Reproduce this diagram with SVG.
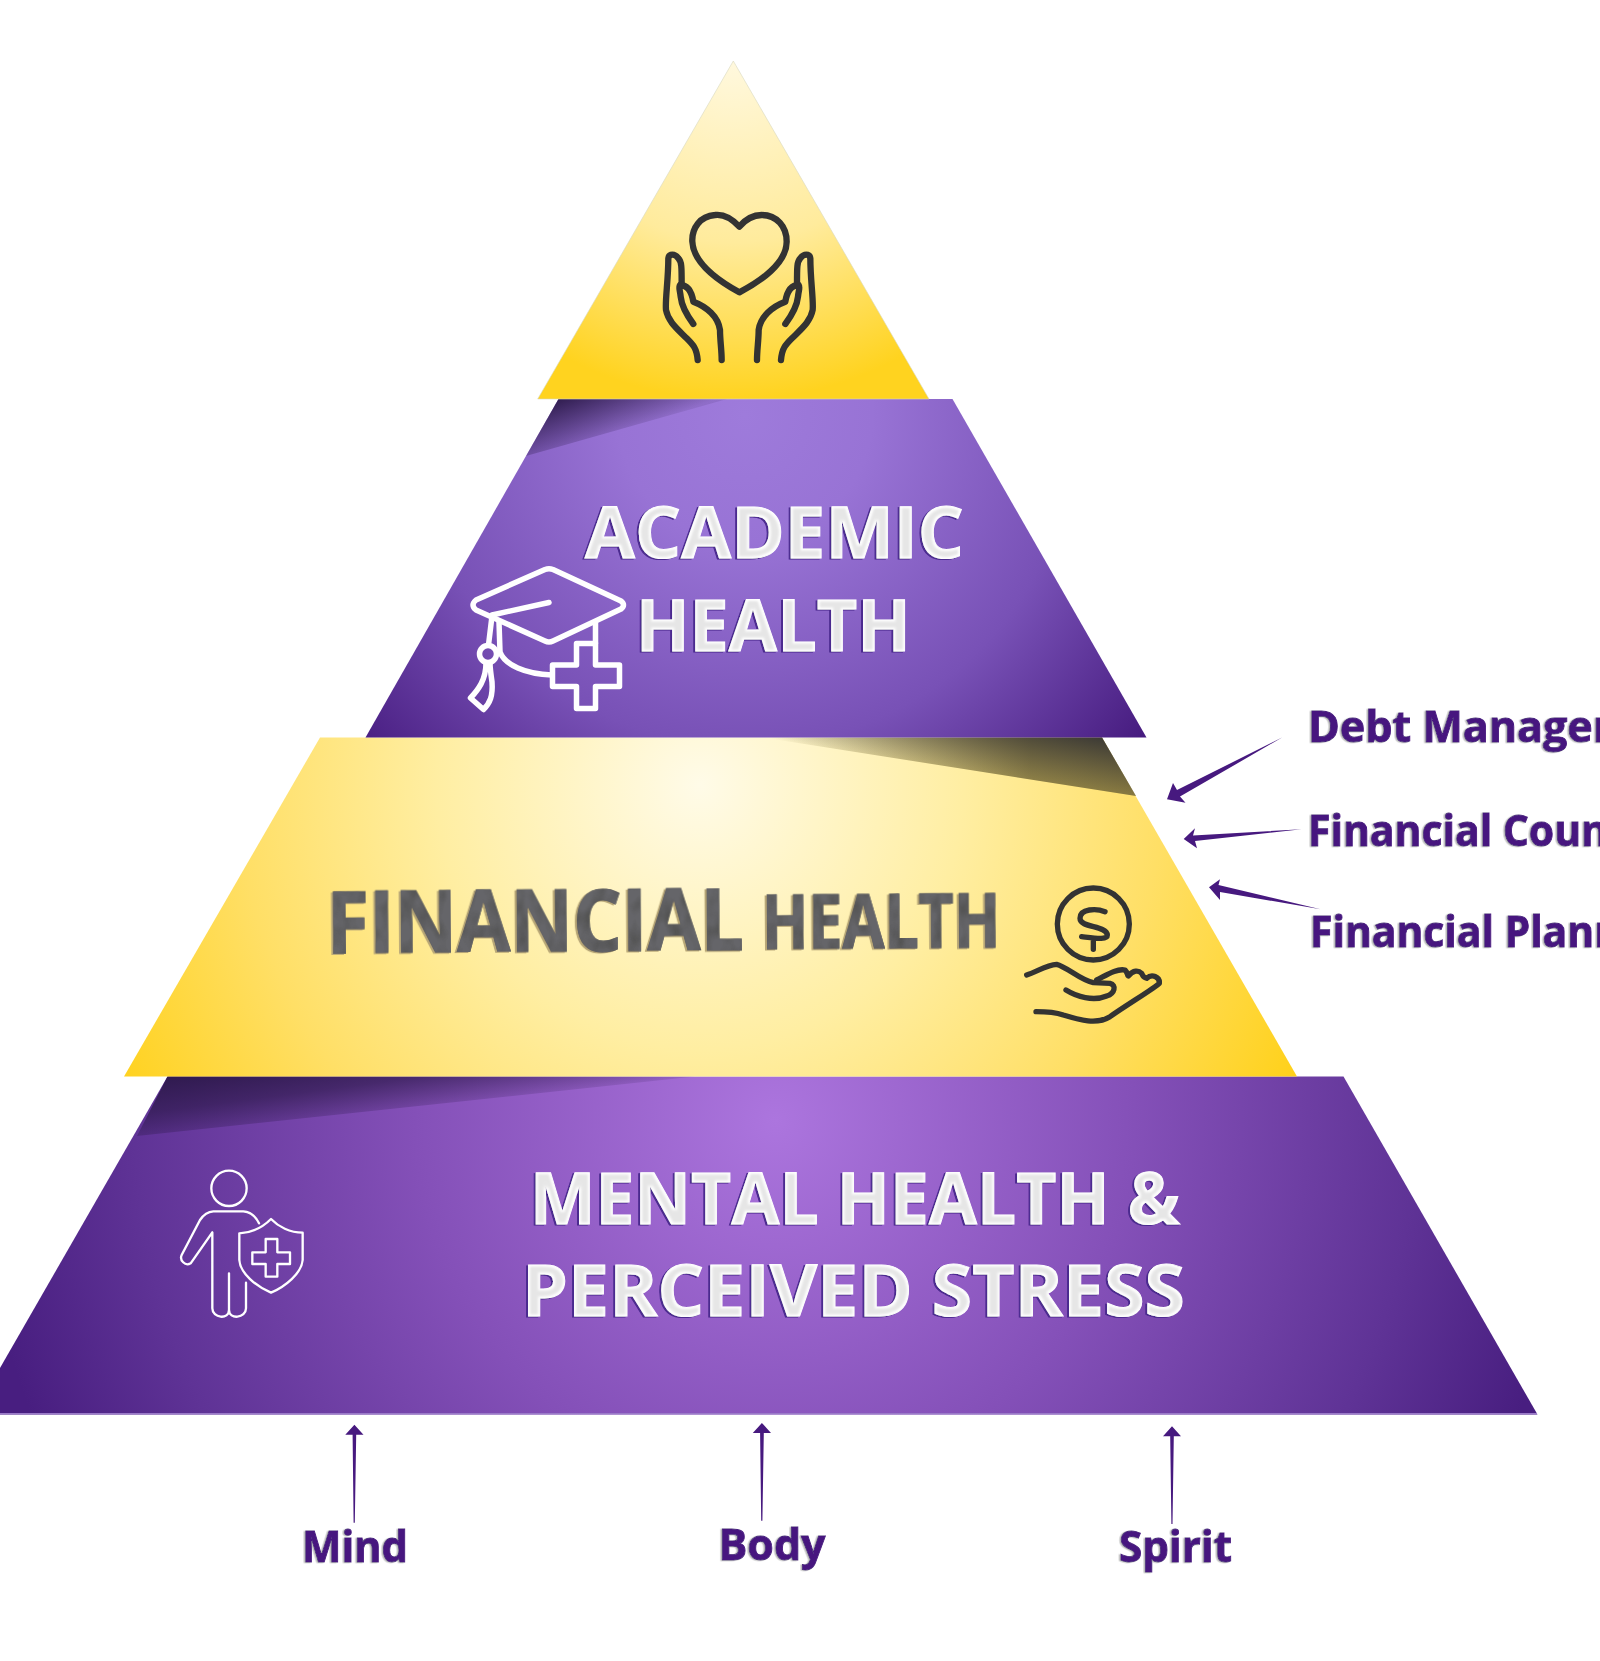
<svg xmlns="http://www.w3.org/2000/svg" width="1600" height="1661" viewBox="0 0 1600 1661">
<style>
text{font-family:"Open Sans","Noto Sans","Liberation Sans",sans-serif;font-weight:700}
.lab{font-size:43px;fill:#47197f;stroke:#47197f;stroke-width:.9px;filter:url(#greyShadow)}
.big{font-size:72px;fill:#fff;stroke:#fff;stroke-width:1px;filter:url(#bevel)}
.dark{fill:#555;stroke:#555;stroke-width:1.2px;filter:url(#mottle)}
.arrow{fill:#47197f}
.iconD{fill:none;stroke:#333;stroke-width:19;stroke-linecap:round;stroke-linejoin:round}
.iconM{fill:none;stroke:#333;stroke-width:16;stroke-linecap:round;stroke-linejoin:round}
.iconW{fill:none;stroke:#fff;stroke-linecap:round;stroke-linejoin:round}
</style>
<defs>
<radialGradient id="gL1" gradientUnits="userSpaceOnUse" cx="733" cy="50" r="350"><stop offset="0" stop-color="#fff9e2"/><stop offset=".55" stop-color="#ffeb9c"/><stop offset="1" stop-color="#ffd31f"/></radialGradient>
<radialGradient id="gL2" gradientUnits="userSpaceOnUse" cx="745" cy="415" r="510"><stop offset="0" stop-color="#9e7bdb"/><stop offset=".25" stop-color="#9873d5"/><stop offset=".65" stop-color="#7851b6"/><stop offset="1" stop-color="#471c80"/></radialGradient>
<radialGradient id="gL3" gradientUnits="userSpaceOnUse" cx="700" cy="785" r="660"><stop offset="0" stop-color="#fffbe8"/><stop offset=".4" stop-color="#ffeea2"/><stop offset=".7" stop-color="#ffdf66"/><stop offset="1" stop-color="#ffd11b"/></radialGradient>
<radialGradient id="gL4" gradientUnits="userSpaceOnUse" cx="775" cy="1120" r="800"><stop offset="0" stop-color="#ac75de"/><stop offset=".45" stop-color="#8450b8"/><stop offset=".8" stop-color="#5f3396"/><stop offset="1" stop-color="#481e80"/></radialGradient>
<linearGradient id="w2" gradientUnits="userSpaceOnUse" x1="555" y1="397" x2="574" y2="450"><stop offset="0" stop-color="#2c1a4a"/><stop offset="1" stop-color="#2c1a4a" stop-opacity=".12"/></linearGradient>
<linearGradient id="w3a" gradientUnits="userSpaceOnUse" x1="1030" y1="745" x2="770" y2="745"><stop offset="0" stop-color="#7d7038" stop-opacity=".8"/><stop offset="1" stop-color="#7d7038" stop-opacity="0"/></linearGradient>
<linearGradient id="w3b" gradientUnits="userSpaceOnUse" x1="1100" y1="735" x2="1088" y2="798"><stop offset="0" stop-color="#2f2f33" stop-opacity=".9"/><stop offset="1" stop-color="#2f2f33" stop-opacity="0"/></linearGradient>
<linearGradient id="w4" gradientUnits="userSpaceOnUse" x1="160" y1="1076" x2="169" y2="1145"><stop offset="0" stop-color="#2f1a4e"/><stop offset=".5" stop-color="#2f1a4e" stop-opacity=".7"/><stop offset="1" stop-color="#2f1a4e" stop-opacity=".12"/></linearGradient>
<filter id="greyShadow" x="-5%" y="-10%" width="110%" height="120%"><feDropShadow dx="-1.5" dy="0.5" stdDeviation="0.4" flood-color="#b9b9b9"/></filter>
<filter id="bevel" x="-5%" y="-10%" width="110%" height="120%">
<feOffset in="SourceAlpha" dx="-2.5" dy="0.5" result="o"/><feFlood flood-color="#4b2a8f"/><feComposite in2="o" operator="in" result="sh"/>
<feMorphology in="SourceAlpha" operator="erode" radius="2"/><feGaussianBlur stdDeviation="1.2" result="e"/><feFlood flood-color="#e6e6e6"/><feComposite in2="e" operator="in" result="inner"/>
<feMerge><feMergeNode in="sh"/><feMergeNode in="SourceGraphic"/><feMergeNode in="inner"/></feMerge>
</filter>
<filter id="mottle" x="-5%" y="-10%" width="110%" height="120%">
<feOffset in="SourceAlpha" dx="-2" dy="0.5" result="o"/><feFlood flood-color="#b9a877"/><feComposite in2="o" operator="in" result="sh"/>
<feTurbulence type="fractalNoise" baseFrequency=".06 .04" numOctaves="2" seed="4"/><feColorMatrix type="matrix" values="0 0 0 0 .13 0 0 0 0 .13 0 0 0 0 .14 2.6 0 0 0 -.55"/><feComposite in2="SourceAlpha" operator="in" result="n"/>
<feMerge><feMergeNode in="sh"/><feMergeNode in="SourceGraphic"/><feMergeNode in="n"/></feMerge>
</filter>
<g id="handL"><path d="M593 960C590 925 580 915 560 895C530 865 505 845 498 810C495 780 505 720 505 655C507 640 525 640 535 655C545 665 545 680 545 735"/><path d="M580 852C560 825 545 800 542 770C540 750 535 742 540 735C565 735 575 755 580 785C620 800 655 830 660 870C660 900 665 930 665 960"/></g>
</defs>

<g id="level-4-mental-health">
<polygon points="167.500,1076.500 1343.500,1076.500 1537.500,1414.500 0,1414.500 0,1368" fill="url(#gL4)"/>
<polygon points="167.500,1076.500 695,1076.500 137,1136" fill="url(#w4)"/>
<rect x="0" y="1413" width="1537" height="1.500" fill="#9a7ac8"/>
<text class="big" x="530" y="1224" textLength="650" lengthAdjust="spacingAndGlyphs">MENTAL HEALTH &amp;</text>
<text class="big" x="522" y="1316" textLength="663" lengthAdjust="spacingAndGlyphs">PERCEIVED STRESS</text>
<g class="iconW" stroke-width="7" transform="translate(150 1140) scale(.33333)">
<circle cx="237" cy="145" r="53"/>
<path d="M327 250C315 225 300 215 280 214L190 214C170 215 160 225 150 240L95 345C88 360 105 380 122 370L187 277L187 505C187 535 237 540 237 510L237 400M237 510C237 540 288 535 288 505L288 428"/>
<path d="M363 237C340 260 305 278 268 280L268 360C270 400 320 440 363 458C405 440 455 400 458 360L458 278C420 278 385 260 363 237Z"/>
<path d="M347 297H382V337H420V372H382V410H347V372H307V337H347Z"/>
</g>
</g>

<g id="level-3-financial-health">
<polygon points="320,737.500 1102,737.500 1297,1076.500 124,1076.500" fill="url(#gL3)"/>
<polygon points="763,737.500 1102,737.500 1136,796" fill="url(#w3a)"/>
<polygon points="763,737.500 1102,737.500 1136,796" fill="url(#w3b)"/>
<text class="dark" transform="translate(327 953) rotate(-0.4) scale(.885 1)" font-size="87">FINANCIAL</text>
<text class="dark" transform="translate(762 949) rotate(-0.4) scale(.8 1)" font-size="76">HEALTH</text>
<g class="iconM" transform="translate(1000 870) scale(.33333)">
<circle cx="280" cy="162" r="108"/>
<path d="M315 125C290 115 240 115 240 145C240 175 320 165 322 195C322 210 290 205 245 200M280 210L280 238"/>
<path d="M80 315C110 305 140 285 170 283C200 290 240 330 280 338L330 340C350 345 345 370 320 378C280 395 230 380 198 360"/>
<path d="M290 330C320 315 350 295 375 300C385 310 380 315 385 318C400 300 415 300 425 310C432 325 432 320 440 325C455 310 480 320 478 340C470 350 380 405 330 440C290 465 240 450 190 435C160 425 130 425 108 425"/>
</g>
</g>

<g id="level-2-academic-health">
<polygon points="558.500,399 952.500,399 1146.500,737.500 365.500,737.500" fill="url(#gL2)"/>
<polygon points="558.500,399 727,399 526,456" fill="url(#w2)"/>
<text class="big" x="585" y="558" textLength="379" lengthAdjust="spacingAndGlyphs">ACADEMIC</text>
<text class="big" x="636" y="650.500" textLength="275" lengthAdjust="spacingAndGlyphs">HEALTH</text>
<g class="iconW" stroke-width="5.500">
<path d="M476 600L545 569.500Q549 568 553 569.500L621 601Q626 605 621 609L553 641Q549 643 545 641L476 610Q470 605 476 600Z"/>
<path d="M492 615L549 602.500M492 616L488.500 645"/>
<circle cx="488" cy="654" r="8.500"/>
<path d="M486 663C486 680 478 690 470.500 698L483.500 709.500C490 703 493 696 492 682C491 675 490 668 490 663"/>
<path d="M499 622L500 652C505 665 525 674 552 675M595.500 623L595.500 643"/>
<path d="M576.500 643.500H595.500V665H619.500V686.500H595.500V708.500H576.500V686.500H552.500V665H576.500Z"/>
</g>
</g>

<g id="level-1-wellbeing">
<polygon points="733.300,61 929,399 537.700,399" fill="url(#gL1)" stroke="#d8d8c0" stroke-width=".6"/>
<g class="iconD" transform="translate(500 40) scale(.33333)">
<path d="M718 560C695 535 670 522 645 525C600 528 575 565 577 605C580 670 660 725 718 757C780 725 860 670 860 605C860 560 830 525 785 525C760 525 735 540 718 560Z"/>
<use href="#handL"/>
<use href="#handL" transform="translate(1436 0) scale(-1 1)"/>
</g>
</g>

<g id="connectors">
<path class="arrow" d="M1282.500 737.300L1180 796.500L1185.500 802.700L1167 799.300L1173 783L1177 790Z"/>
<path class="arrow" d="M1301.500 829.300L1193 835.500L1195 828.300L1183.700 839L1197 848.300L1195 841Z"/>
<path class="arrow" d="M1320.600 909.300L1218.500 885L1220 879.300L1209 887.300L1220 900L1220 892Z"/>
<path class="arrow" d="M354.400 1424.700L363.500 1434.700H356.200L354.800 1522.700L353.600 1522.700L352.600 1434.700H345.300Z"/>
<path class="arrow" d="M761.900 1423L771 1433H763.800L762.400 1520.700L761.200 1520.700L760.100 1433H752.800Z"/>
<path class="arrow" d="M1172 1426.300L1181 1436.300H1173.800L1172.500 1524L1171.400 1524L1170.200 1436.300H1163Z"/>
</g>

<g id="label-debt"><text class="lab" x="1308" y="741.500">Debt Managem</text></g>
<g id="label-counseling"><text class="lab" x="1308" y="846" textLength="300" lengthAdjust="spacingAndGlyphs">Financial Coun</text></g>
<g id="label-planning"><text class="lab" x="1310" y="946.500" textLength="311" lengthAdjust="spacingAndGlyphs">Financial Plann</text></g>
<g id="label-mind"><text class="lab" x="302" y="1562" textLength="106" lengthAdjust="spacingAndGlyphs">Mind</text></g>
<g id="label-body"><text class="lab" x="718.500" y="1560" textLength="107" lengthAdjust="spacingAndGlyphs">Body</text></g>
<g id="label-spirit"><text class="lab" x="1119" y="1562" textLength="113" lengthAdjust="spacingAndGlyphs">Spirit</text></g>
</svg>
